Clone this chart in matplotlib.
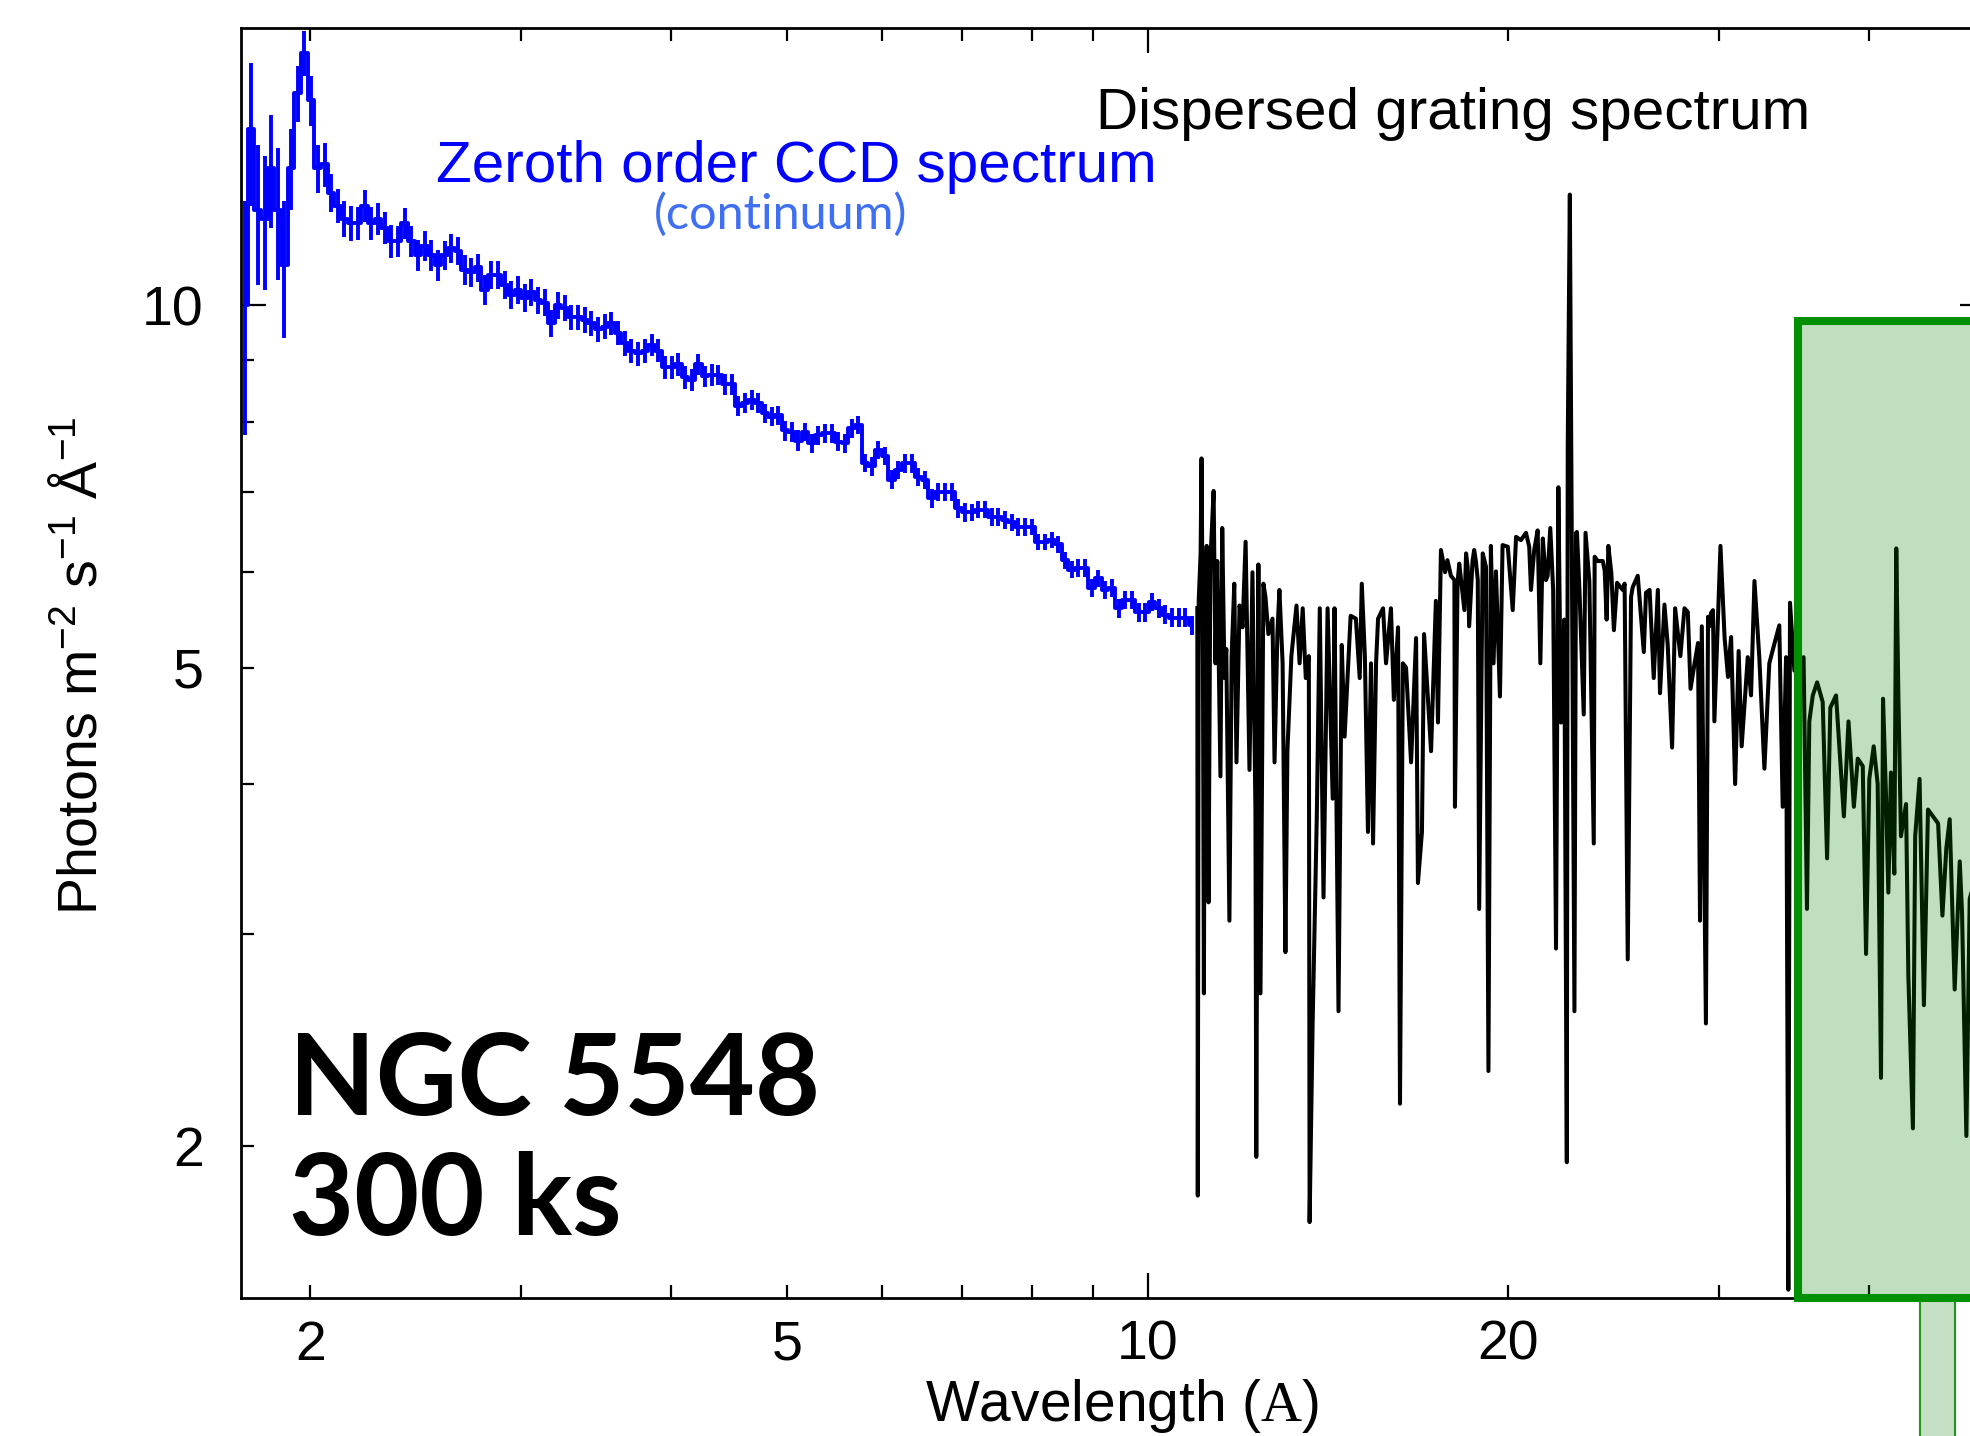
import numpy as np
import matplotlib.pyplot as plt
from matplotlib.patches import Rectangle
from matplotlib.ticker import FixedLocator, FuncFormatter

plt.rcParams['font.family'] = ['Liberation Sans', 'DejaVu Sans']
plt.rcParams['mathtext.fontset'] = 'custom'
plt.rcParams['mathtext.rm'] = 'Liberation Sans'
plt.rcParams['mathtext.sf'] = 'Liberation Serif'

# zeroth order CCD spectrum (blue steps with error bars)
ccd_wave = [1.762, 1.784, 1.807, 1.831, 1.854, 1.878, 1.902, 1.927, 1.952, 1.977,
            2.003, 2.028, 2.055, 2.081, 2.108, 2.135, 2.163, 2.191, 2.219, 2.248,
            2.277, 2.306, 2.336, 2.366, 2.397, 2.428, 2.459, 2.491, 2.523, 2.556,
            2.589, 2.622, 2.656, 2.690, 2.725, 2.760, 2.796, 2.832, 2.868, 2.905,
            2.943, 2.981, 3.019, 3.058, 3.098, 3.138, 3.178, 3.219, 3.261, 3.303,
            3.346, 3.389, 3.432, 3.477, 3.522, 3.567, 3.613, 3.660, 3.707, 3.755,
            3.804, 3.853, 3.902, 3.953, 4.004, 4.055, 4.108, 4.161, 4.214, 4.269,
            4.324, 4.380, 4.437, 4.494, 4.552, 4.611, 4.670, 4.731, 4.792, 4.853,
            4.916, 4.979, 5.043, 5.108, 5.174, 5.241, 5.309, 5.377, 5.447, 5.517,
            5.588, 5.660, 5.733, 5.807, 5.882, 5.958, 6.035, 6.113, 6.192, 6.272,
            6.353, 6.435, 6.518, 6.602, 6.687, 6.773, 6.861, 6.949, 7.039, 7.130,
            7.222, 7.315, 7.409, 7.505, 7.602, 7.700, 7.799, 7.900, 8.002, 8.105,
            8.210, 8.316, 8.423, 8.532, 8.642, 8.753, 8.866, 8.981, 9.097, 9.214,
            9.333, 9.454, 9.576, 9.699, 9.825, 9.951, 10.080, 10.210, 10.341, 10.475,
            10.610, 10.747, 10.886]
ccd_flux = [10.0, 14.0, 12.0, 11.8, 13.0, 12.0, 10.8, 13.0, 15.0, 16.2,
            14.8, 13.0, 13.1, 12.4, 12.1, 11.8, 11.7, 11.7, 12.1, 11.7,
            11.8, 11.6, 11.3, 11.3, 11.7, 11.3, 11.0, 11.2, 11.0, 10.8,
            11.0, 11.15, 11.1, 10.7, 10.65, 10.75, 10.3, 10.6, 10.6, 10.4,
            10.2, 10.3, 10.15, 10.25, 10.1, 10.05, 9.66, 10.0, 9.95, 9.77,
            9.77, 9.72, 9.66, 9.55, 9.6, 9.66, 9.48, 9.3, 9.17, 9.12,
            9.17, 9.27, 9.17, 8.88, 8.88, 8.93, 8.71, 8.67, 8.93, 8.73,
            8.75, 8.75, 8.6, 8.6, 8.25, 8.3, 8.34, 8.3, 8.13, 8.08,
            8.1, 7.87, 7.85, 7.72, 7.85, 7.68, 7.8, 7.83, 7.83, 7.7,
            7.68, 7.9, 7.95, 7.4, 7.35, 7.58, 7.5, 7.16, 7.3, 7.39,
            7.39, 7.2, 7.16, 6.91, 7.0, 7.0, 7.0, 6.78, 6.73, 6.73,
            6.76, 6.76, 6.67, 6.67, 6.63, 6.6, 6.54, 6.54, 6.54, 6.36,
            6.36, 6.38, 6.33, 6.14, 6.03, 6.05, 6.05, 5.82, 5.93, 5.8,
            5.82, 5.6, 5.69, 5.69, 5.56, 5.56, 5.67, 5.6, 5.53, 5.5,
            5.5, 5.5, 5.42]
ccd_err = [2.2, 1.9, 1.6, 1.5, 1.4, 1.5, 1.4, 1.0, 0.8, 0.7,
           0.7, 0.6, 0.55, 0.45, 0.4, 0.4, 0.4, 0.38, 0.38, 0.36,
           0.36, 0.35, 0.35, 0.34, 0.34, 0.33, 0.33, 0.32, 0.32, 0.32,
           0.31, 0.31, 0.3, 0.3, 0.3, 0.29, 0.29, 0.28, 0.28, 0.28,
           0.27, 0.27, 0.27, 0.26, 0.26, 0.26, 0.25, 0.25, 0.25, 0.24,
           0.24, 0.24, 0.23, 0.23, 0.23, 0.22, 0.22, 0.22, 0.21, 0.21,
           0.21, 0.2, 0.2, 0.2, 0.19, 0.19, 0.19, 0.18, 0.18, 0.18,
           0.18, 0.17, 0.17, 0.17, 0.16, 0.16, 0.16, 0.16, 0.15, 0.15,
           0.15, 0.15, 0.15, 0.15, 0.14, 0.14, 0.14, 0.14, 0.14, 0.14,
           0.14, 0.14, 0.14, 0.13, 0.13, 0.13, 0.13, 0.13, 0.13, 0.13,
           0.13, 0.12, 0.12, 0.12, 0.12, 0.12, 0.12, 0.12, 0.12, 0.11,
           0.11, 0.11, 0.11, 0.11, 0.11, 0.11, 0.11, 0.11, 0.1, 0.1,
           0.1, 0.1, 0.1, 0.1, 0.1, 0.1, 0.1, 0.1, 0.1, 0.1,
           0.1, 0.1, 0.1, 0.1, 0.1, 0.1, 0.1, 0.1, 0.1, 0.1,
           0.1, 0.1, 0.1]

# dispersed grating spectrum (black)
grating_wave = [11.00, 11.01, 11.03, 11.07, 11.09, 11.12, 11.14, 11.16, 11.20, 11.24,
                11.28, 11.35, 11.39, 11.43, 11.50, 11.54, 11.59, 11.63, 11.70, 11.75,
                11.81, 11.86, 11.93, 12.00, 12.07, 12.16, 12.23, 12.30, 12.32, 12.37,
                12.42, 12.49, 12.54, 12.61, 12.71, 12.76, 12.83, 12.88, 12.96, 13.03,
                13.08, 13.18, 13.31, 13.39, 13.47, 13.55, 13.63, 13.65, 13.73, 13.84,
                13.92, 14.02, 14.13, 14.27, 14.32, 14.43, 14.52, 14.60, 14.77, 14.92,
                15.03, 15.09, 15.18, 15.27, 15.36, 15.42, 15.51, 15.57, 15.72, 15.81,
                15.96, 16.05, 16.18, 16.24, 16.33, 16.43, 16.59, 16.75, 16.81, 16.94,
                17.01, 17.24, 17.40, 17.47,
                17.57, 17.71, 17.79, 17.91, 18.03, 18.05, 18.14, 18.20, 18.38, 18.44,
                18.50, 18.55, 18.67, 18.73, 18.79, 18.86, 18.91, 19.04, 19.16, 19.25,
                19.34, 19.44, 19.53, 19.68, 19.78, 19.98, 20.17, 20.30, 20.49, 20.69,
                20.82, 20.89, 21.02, 21.16, 21.27, 21.37, 21.50, 21.57, 21.68, 21.80,
                21.92, 22.02, 22.13, 22.27, 22.38, 22.42, 22.51, 22.59, 22.71, 22.78,
                22.82, 22.93, 23.12, 23.20, 23.37, 23.57, 23.61, 23.75, 23.98, 24.07,
                24.16, 24.24, 24.38, 24.50, 24.65, 24.92, 25.01, 25.16, 25.32, 25.40,
                25.65, 25.95, 26.06, 26.24, 26.45, 26.66, 26.77, 27.00, 27.17, 27.40,
                27.56, 27.84, 28.06, 28.24, 28.39, 28.61, 28.80, 28.91, 29.01, 29.24,
                29.36, 29.44, 29.53, 29.64, 29.72, 30.07, 30.31, 30.51, 30.59, 30.69,
                30.93, 31.14, 31.32, 31.69, 31.89, 32.10,
                32.40, 32.72, 33.03, 33.35, 33.67, 33.89, 34.11, 34.26, 34.37, 34.66,
                34.92, 35.28, 35.51, 35.67, 35.91, 36.21, 36.60, 36.91, 37.14, 37.55,
                37.79, 38.12, 38.46, 38.86, 39.15, 39.53, 39.78, 40.03, 40.37, 40.68,
                40.94, 41.10, 41.34, 41.52, 41.73, 42.00, 42.16, 42.33, 42.54, 42.96,
                43.15, 43.53, 43.72, 44.09, 44.46, 44.81, 45.24, 45.69, 46.07, 46.42,
                46.72, 47.17, 47.63, 47.84, 48.24, 48.55, 48.90]
grating_flux = [5.60, 1.82, 5.69, 6.22, 7.46, 5.04, 2.68, 5.40, 6.31, 3.19,
                6.13, 7.01, 5.04, 6.13, 4.06, 6.53, 4.90, 5.18, 3.08, 5.11,
                5.87, 4.17, 5.63, 5.40, 6.36, 4.11, 6.00, 3.81, 1.96, 6.09,
                2.68, 5.87, 5.72, 5.33, 5.49, 4.17, 5.33, 5.80, 5.04, 2.90,
                4.26, 5.11, 5.63, 5.04, 5.60, 4.90, 5.11, 1.73, 2.53, 3.76,
                5.60, 3.22, 5.60, 3.89, 5.60, 2.59, 5.22, 4.38, 5.52, 5.49,
                4.90, 5.87, 5.11, 3.65, 5.04, 3.57, 5.04, 5.49, 5.60, 5.04,
                5.60, 4.70, 5.40, 2.17, 5.04, 5.00, 4.17, 5.29, 3.31, 3.65,
                5.33, 4.26, 5.68, 4.50,
                6.26, 6.00, 6.14, 5.96, 5.91, 3.83, 5.88, 6.10, 5.58, 6.22,
                6.05, 5.41, 6.13, 6.26, 6.13, 5.91, 3.15, 6.22, 6.06, 2.31,
                6.31, 5.04, 6.01, 4.73, 6.32, 6.30, 5.58, 6.42, 6.38, 6.47,
                6.30, 5.80, 6.26, 6.50, 5.04, 6.40, 5.91, 5.96, 6.53, 5.80,
                2.92, 7.06, 4.50, 5.48, 1.94, 7.67, 12.36, 6.67, 2.59, 6.47,
                6.48, 5.80, 4.57, 6.47, 5.90, 3.57, 6.18, 6.13, 6.13, 6.02,
                5.48, 6.31, 5.99, 5.37, 5.88, 5.80, 5.87, 2.86, 5.72, 5.83,
                5.96, 5.15, 5.77, 5.80, 4.90, 5.80, 4.76, 5.64, 5.22, 4.29,
                5.60, 5.11, 5.60, 5.56, 4.80, 5.04, 5.24, 3.08, 5.41, 2.53,
                5.51, 5.41, 5.55, 5.58, 4.51, 6.31, 5.29, 4.91, 5.10, 5.30,
                4.00, 5.16, 4.30, 5.10, 4.74, 5.90,
                5.10, 4.12, 5.04, 5.23, 5.42, 3.83, 5.10, 1.52, 5.66, 4.97,
                5.00, 5.10, 3.15, 4.51, 4.74, 4.86, 4.68, 3.47, 4.63, 4.74,
                4.30, 3.76, 4.51, 3.83, 4.20, 4.14, 2.89, 4.04, 4.30, 4.00,
                2.28, 4.71, 3.90, 3.25, 4.09, 3.37, 6.28, 4.74, 3.62, 3.85,
                2.77, 2.07, 3.62, 4.04, 2.62, 3.81, 3.76, 3.71, 3.11, 3.54,
                3.74, 2.70, 3.45, 3.13, 2.04, 3.21, 3.30]

x_major = [10]
x_minor = [2, 3, 4, 5, 6, 7, 8, 9, 20, 30, 40, 50]
x_labelled = [2, 5, 20]
y_major = [10]
y_minor = [2, 3, 4, 5, 6, 7, 8, 9]
y_labelled = [2, 5]

# highlighted band (data coords) and the connector strip below it
box_x0, box_top = 34.9, 9.71
strip_x0, strip_x1 = 44.1, 47.2

fig = plt.figure(figsize=(19.7, 14.36), dpi=100)
ax = fig.add_axes([241 / 1970, 1 - 1297.7 / 1436, (1985 - 241) / 1970, (1297.7 - 28) / 1436])

ax.step(ccd_wave, ccd_flux, where='mid', color='#0000ff', lw=2.8, zorder=3)
ax.errorbar(ccd_wave, ccd_flux, yerr=ccd_err, fmt='none', ecolor='#0000ff',
            elinewidth=2.8, capsize=0, zorder=3)
ax.plot(grating_wave, grating_flux, color='black', lw=2.9, zorder=3)

ax.set_xscale('log')
ax.set_yscale('log')
ax.set_xlim(1.75, 50)
ax.set_ylim(1.497, 17.0)

lab = lambda keep: FuncFormatter(lambda v, p: '%g' % v if round(v) in keep else '')
ax.xaxis.set_major_locator(FixedLocator(x_major))
ax.xaxis.set_minor_locator(FixedLocator(x_minor))
ax.xaxis.set_major_formatter(lab(x_major))
ax.xaxis.set_minor_formatter(lab(x_labelled))
ax.yaxis.set_major_locator(FixedLocator(y_major))
ax.yaxis.set_minor_locator(FixedLocator(y_minor))
ax.yaxis.set_major_formatter(lab(y_major))
ax.yaxis.set_minor_formatter(lab(y_labelled))

ax.tick_params(which='both', direction='in', top=True, right=True, width=1.6,
               labelsize=40)
ax.tick_params(which='major', length=18)
ax.tick_params(which='minor', length=9.4)
ax.tick_params(axis='x', which='both', pad=16)
ax.tick_params(axis='y', which='both', pad=27)
for s in ax.spines.values():
    s.set_linewidth(2.0)

lo = ax.get_ylim()[0]
ax.add_patch(Rectangle((strip_x0, 1.0), strip_x1 - strip_x0, lo - 1.0,
                       facecolor='#c6e0c6', edgecolor='#1a9a1a', lw=1.5,
                       clip_on=False, zorder=4))
ax.add_patch(Rectangle((box_x0, lo), 200, box_top - lo,
                       facecolor=(0, 0.5, 0, 0.25), edgecolor='#009000', lw=5.8,
                       clip_on=False, zorder=5))

fig.text(436 / 1970, 1 - 182 / 1436, 'Zeroth order CCD spectrum', color='#0000ff',
         fontsize=42, va='baseline', ha='left')
fig.text(781 / 1970, 1 - 229 / 1436, '(continuum)', color='#3f6ff2',
         fontsize=35, family=['Lato', 'DejaVu Sans'], va='baseline', ha='center')
fig.text(1096 / 1970, 1 - 129 / 1436, 'Dispersed grating spectrum', color='black',
         fontsize=42, va='baseline', ha='left')
fig.text(289 / 1970, 1 - 1115 / 1436, 'NGC 5548', fontsize=81, fontweight='bold',
         family=['Lato', 'DejaVu Sans'], va='baseline', ha='left')
fig.text(289 / 1970, 1 - 1235 / 1436, '300 ks', fontsize=81, fontweight='bold',
         family=['Lato', 'DejaVu Sans'], va='baseline', ha='left')

fig.text(1122 / 1970, 1 - 1421 / 1436, r'Wavelength ($\mathsf{A}$)', fontsize=41,
         va='baseline', ha='center')
fig.text(82 / 1970, 1 - 666 / 1436, r'Photons m$^{-2}$ s$^{-1}$ Å$^{-1}$', fontsize=40,
         rotation=90, va='center', ha='center')

fig.savefig('out.png', dpi=100)
